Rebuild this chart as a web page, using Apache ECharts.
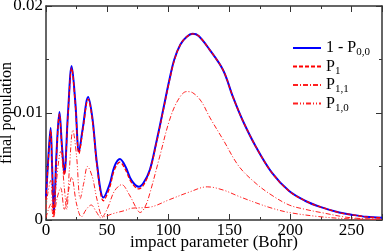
<!DOCTYPE html>
<html>
<head>
<meta charset="utf-8">
<script src="https://cdn.jsdelivr.net/npm/echarts@6/dist/echarts.min.js"></script>
<style>html,body{margin:0;padding:0;background:#fff}#c{width:384px;height:251px}</style>
</head>
<body>
<div id="c"></div>
<script>
// impact parameter (Bohr) and final populations
var bMain = [0, 2, 3.8, 5, 6.5, 8.5, 11, 13, 15, 18, 21, 24, 27, 30, 34.5, 38, 42, 47, 52, 56, 60.5, 65, 70, 76, 80, 85, 90, 93, 95, 101, 105, 110, 115, 120, 125, 134, 145, 153, 161, 172, 185, 199, 212, 225, 240, 250, 262, 275];
var vMain = [0.0021, 0.0060, 0.0086, 0.0050, 0.0007, 0.0060, 0.0101, 0.0070, 0.0044, 0.0100, 0.0144, 0.0110, 0.0064, 0.0085, 0.0115, 0.0095, 0.0050, 0.0021, 0.0033, 0.0050, 0.0057, 0.0050, 0.0037, 0.0031, 0.0035, 0.0047, 0.0071, 0.0087, 0.0098, 0.0131, 0.0150, 0.0164, 0.0171, 0.0174, 0.0172, 0.0159, 0.0140, 0.0115, 0.0093, 0.0068, 0.0044, 0.0027, 0.0018, 0.0012, 0.0007, 0.0005, 0.0003, 0.0002];
var vP1 = [0.0019, 0.0058, 0.0084, 0.0048, 0.0005, 0.0058, 0.0099, 0.0068, 0.0042, 0.0098, 0.0142, 0.0108, 0.0062, 0.0083, 0.0113, 0.0093, 0.0048, 0.0018, 0.0030, 0.0047, 0.0054, 0.0047, 0.0035, 0.0029, 0.0033, 0.0046, 0.0070, 0.0086, 0.0097, 0.0130, 0.0149, 0.0164, 0.0171, 0.0174, 0.0172, 0.0159, 0.0140, 0.0115, 0.0093, 0.0068, 0.0044, 0.0027, 0.0018, 0.0012, 0.0007, 0.0005, 0.0003, 0.0002];
var bP11 = [0, 2, 4, 6, 9, 12, 15, 18, 21, 25, 29, 33, 37, 41, 45, 50, 56, 62, 68, 74, 77, 81, 85, 93, 101, 108, 115, 120, 127, 134, 145, 158, 172, 185, 199, 212, 225, 250, 275];
var vP11 = [0.0002, 0.0010, 0.0015, 0.0002, 0.0020, 0.0030, 0.0010, 0.0025, 0.0040, 0.0015, 0.0003, 0.0010, 0.0014, 0.0008, 0.0002, 0.0010, 0.0027, 0.0033, 0.0024, 0.0011, 0.0007, 0.0012, 0.0025, 0.0059, 0.0093, 0.0112, 0.0120, 0.0119, 0.0111, 0.0096, 0.0075, 0.0050, 0.0034, 0.0023, 0.0014, 0.0010, 0.0007, 0.0002, 0.0001];
var bP10 = [0, 1.5, 3.8, 6, 8, 12, 15, 17, 19, 22, 25, 28, 31, 34, 38, 42, 47, 55, 65, 70, 85, 101, 117, 132, 145, 158, 172, 185, 199, 225, 250, 275];
var vP10 = [0.0010, 0.0025, 0.0037, 0.0003, 0.0030, 0.0064, 0.0030, 0.0010, 0.0045, 0.0084, 0.0060, 0.0020, 0.0035, 0.0050, 0.0040, 0.0018, 0.0003, 0.0006, 0.0009, 0.0011, 0.0012, 0.0019, 0.0026, 0.0031, 0.0028, 0.0022, 0.0016, 0.0011, 0.0007, 0.0003, 0.0001, 0.00005];
var xTicks = [0, 50, 100, 150, 200, 250];
var yTicks = [0, 0.01, 0.02];
var names = ['1 - P{s|0,0}', 'P{s|1}', 'P{s|1,1}', 'P{s|1,0}'];

function zip(a, b) { return a.map(function (x, i) { return [x, b[i]]; }); }

var FONT = 'Liberation Serif';
var axisLine = { show: true, onZero: false, lineStyle: { color: '#333', width: 1.5 } };
var chart = echarts.init(document.getElementById('c'), null, { renderer: 'canvas' });
var xBase = {
  type: 'value', min: 0, max: 275, interval: 50,
  axisLine: axisLine,
  axisTick: { show: true, inside: true, length: 6, lineStyle: { color: '#333', width: 1 } },
  minorTick: { show: true, splitNumber: 2, length: 3, lineStyle: { color: '#333', width: 1 } },
  splitLine: { show: false }
};
var yBase = {
  type: 'value', min: 0, max: 0.02, interval: 0.01,
  axisLine: axisLine,
  axisTick: { show: true, inside: true, length: 6, lineStyle: { color: '#333', width: 1 } },
  minorTick: { show: true, splitNumber: 2, length: 3, lineStyle: { color: '#333', width: 1 } },
  splitLine: { show: false }
};
chart.setOption({
  animation: false,
  textStyle: { fontFamily: FONT },
  grid: { left: 46, right: 2, top: 6, bottom: 31, containLabel: false, outerBoundsMode: 'none' },
  xAxis: [
    Object.assign({}, xBase, {
      position: 'bottom',
      name: 'impact parameter (Bohr)', nameLocation: 'middle', nameGap: 14, nameMoveOverlap: false,
      nameTextStyle: { fontFamily: FONT, fontSize: 17, color: '#000' },
      axisLabel: { show: true, margin: 2, fontFamily: FONT, fontSize: 17, color: '#000',
        showMaxLabel: false,
        formatter: function (v) { return xTicks.indexOf(v) >= 0 ? String(v) : ''; } }
    }),
    Object.assign({}, xBase, { position: 'top', axisLabel: { show: false } })
  ],
  yAxis: [
    Object.assign({}, yBase, {
      position: 'left',
      name: 'final population', nameLocation: 'middle', nameGap: 31, nameRotate: 90, nameMoveOverlap: false,
      nameTextStyle: { fontFamily: FONT, fontSize: 16, color: '#000' },
      axisLabel: { show: true, margin: 3, fontFamily: FONT, fontSize: 17, color: '#000',
        formatter: function (v) { return v === 0 ? '0' : v.toFixed(2); } }
    }),
    Object.assign({}, yBase, { position: 'right', axisLabel: { show: false } })
  ],
  legend: {
    orient: 'vertical', left: 287, top: 35, itemWidth: 28, itemHeight: 12, itemGap: 0.5,
    data: names,
    itemStyle: { opacity: 0 },
    formatter: function (n) { return n; },
    textStyle: { fontFamily: FONT, fontSize: 16, color: '#000',
      rich: { s: { fontFamily: FONT, fontSize: 11, color: '#000', padding: [9, 0, 0, 0] } } }
  },
  series: [
    { name: names[0], type: 'line', data: zip(bMain, vMain), smooth: 0.35, symbol: 'none',
      lineStyle: { color: '#0000ff', width: 2 }, itemStyle: { color: '#0000ff' }, z: 2 },
    { name: names[1], type: 'line', data: zip(bMain, vP1), smooth: 0.35, symbol: 'none',
      lineStyle: { color: '#ff0000', width: 1.3, type: [4, 2] }, itemStyle: { color: '#ff0000' }, z: 3 },
    { name: names[2], type: 'line', data: zip(bP11, vP11), smooth: 0.35, symbol: 'none',
      lineStyle: { color: '#ff2020', width: 1, type: [5, 2, 1, 2] }, itemStyle: { color: '#ff2020' }, z: 4 },
    { name: names[3], type: 'line', data: zip(bP10, vP10), smooth: 0.35, symbol: 'none',
      lineStyle: { color: '#ff2020', width: 1, type: [5, 2, 1, 2, 1, 2] }, itemStyle: { color: '#ff2020' }, z: 4 }
  ]
});
</script>
</body>
</html>
